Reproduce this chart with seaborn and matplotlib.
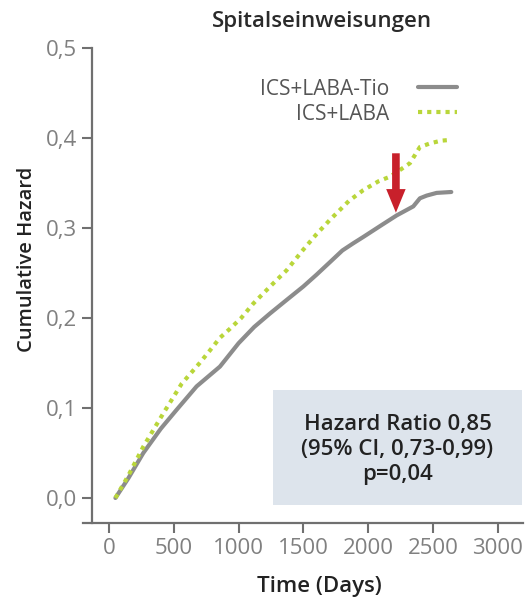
import matplotlib
matplotlib.use("Agg")
import matplotlib.pyplot as plt
from matplotlib.lines import Line2D
from matplotlib.patches import Rectangle
from matplotlib.ticker import FuncFormatter
import seaborn as sns
import pandas as pd

# Werte (Nelson-Aalen, kumulative Hazard)
days_tio = [50, 150, 265, 400, 522, 676, 856, 1000, 1120, 1242, 1370, 1499,
            1600, 1704, 1800, 1884, 1961, 2100, 2219, 2347, 2398, 2450, 2527, 2640]
hazard_tio = [0.0, 0.022, 0.050, 0.077, 0.098, 0.124, 0.146, 0.172, 0.190, 0.205,
              0.220, 0.235, 0.248, 0.262, 0.275, 0.283, 0.290, 0.303, 0.314, 0.324,
              0.333, 0.336, 0.339, 0.340]

days_laba = [50, 150, 265, 419, 561, 700, 779, 856, 933, 1020, 1113, 1250, 1370,
             1499, 1600, 1704, 1850, 1961, 2080, 2167, 2250, 2321, 2398, 2476, 2560, 2643]
hazard_laba = [0.0, 0.025, 0.057, 0.094, 0.127, 0.150, 0.164, 0.178, 0.188, 0.200,
               0.216, 0.236, 0.253, 0.276, 0.293, 0.309, 0.330, 0.342, 0.352, 0.357,
               0.365, 0.372, 0.390, 0.394, 0.397, 0.398]

labels = ["ICS+LABA-Tio", "ICS+LABA"]
x_ticks = [0, 500, 1000, 1500, 2000, 2500, 3000]
y_ticks = [0.0, 0.1, 0.2, 0.3, 0.4, 0.5]
hr_text = "Hazard Ratio 0,85\n(95% CI, 0,73-0,99)\np=0,04"
arrow_day = 2213
arrow_from, arrow_to = 0.383, 0.317

grey = "#8c8c8c"
green = "#b9d63a"

sns.set_theme(style="ticks")
plt.rcParams["font.family"] = ["Open Sans", "DejaVu Sans"]

df_tio = pd.DataFrame({"day": days_tio, "hazard": hazard_tio})
df_laba = pd.DataFrame({"day": days_laba, "hazard": hazard_laba})

fig = plt.figure(figsize=(5.25, 6.04), dpi=100)
ax = fig.add_axes([83 / 525, 81 / 604, 440 / 525, 475 / 604])

sns.lineplot(data=df_tio, x="day", y="hazard", ax=ax, color=grey, linewidth=3, zorder=3)
sns.lineplot(data=df_laba, x="day", y="hazard", ax=ax, color=green, linewidth=3.0,
             linestyle=(0, (1, 1.2)), zorder=4)

ax.set_xlim(-200, 3193)
ax.set_ylim(-0.0278, 0.5)
ax.spines["left"].set_position(("data", -130))
sns.despine(ax=ax)
for s in ["left", "bottom"]:
    ax.spines[s].set_color("#707070")
    ax.spines[s].set_linewidth(1.6)

ax.set_xticks(x_ticks)
ax.set_yticks(y_ticks)
ax.yaxis.set_major_formatter(FuncFormatter(lambda v, p: f"{v:.1f}".replace(".", ",")))
ax.tick_params(axis="both", direction="out", length=7, width=1.5, color="#707070",
               labelcolor="#808080", labelsize=16, pad=4)

ax.set_xlabel("Time (Days)", fontsize=16, fontweight="semibold", color="#222222")
ax.set_ylabel("Cumulative Hazard", fontsize=14.5, fontweight="semibold", color="#222222")
ax.xaxis.set_label_coords(0.537, -0.112)
ax.yaxis.set_label_coords(-0.105, 0.554)

fig.text(0.613, 1 - 22 / 604, "Spitalseinweisungen", ha="center", va="center",
         fontsize=16, fontweight="semibold", color="#2a2a2a")

handles = [Line2D([], [], color=grey, linewidth=3),
           Line2D([], [], color=green, linewidth=3.0, linestyle=(0, (1, 1.2)))]
ax.legend(handles, labels, loc="upper right", bbox_to_anchor=(457 / 525, 0.870),
          bbox_transform=fig.transFigure, frameon=False, markerfirst=False,
          fontsize=15, labelcolor="#555555", handlelength=1.85, handletextpad=1.4,
          labelspacing=0.2, borderpad=0, borderaxespad=0)

ax.add_patch(Rectangle((0.4318, 0.0379), 0.5659, 0.2421, transform=ax.transAxes,
                       facecolor="#dde4ec", edgecolor="none", zorder=1))
ax.text(0.7148, 0.155, hr_text, transform=ax.transAxes, ha="center", va="center",
        fontsize=16, fontweight="semibold", color="#222222", linespacing=1.25, zorder=2)

ax.annotate("", xy=(arrow_day, arrow_to), xytext=(arrow_day, arrow_from),
            arrowprops=dict(facecolor="#c8202b", edgecolor="none", width=5.5,
                            headwidth=14, headlength=17, shrink=0), zorder=6)

fig.savefig("out.png", dpi=100)
